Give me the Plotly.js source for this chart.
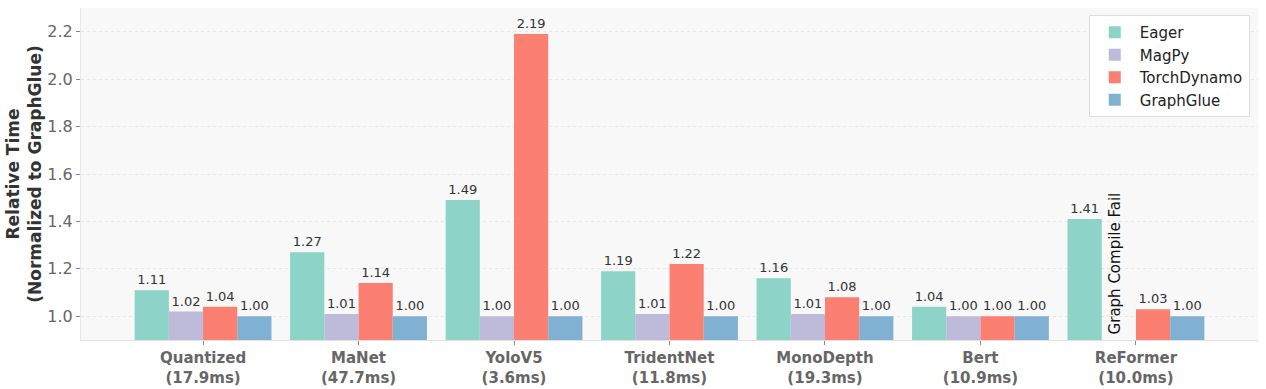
<!DOCTYPE html>
<html>
<head>
<meta charset="utf-8">
<script src="https://cdn.plot.ly/plotly-3.0.1.min.js"></script>
<style>html,body{margin:0;padding:0;background:#fff;}#chart{width:1266px;height:389px;}</style>
</head>
<body>
<div id="chart"></div>
<script>
const categories = ["Quantized<br>(17.9ms)", "MaNet<br>(47.7ms)", "YoloV5<br>(3.6ms)", "TridentNet<br>(11.8ms)", "MonoDepth<br>(19.3ms)", "Bert<br>(10.9ms)", "ReFormer<br>(10.0ms)"];
const eager = [1.11, 1.27, 1.49, 1.19, 1.16, 1.04, 1.41];
const magpy = [1.02, 1.01, 1.00, 1.01, 1.01, 1.00, null];
const torchDynamo = [1.04, 1.14, 2.19, 1.22, 1.08, 1.00, 1.03];
const graphGlue = [1.00, 1.00, 1.00, 1.00, 1.00, 1.00, 1.00];
const seriesNames = ["Eager", "MagPy", "TorchDynamo", "GraphGlue"];
const colors = ["#8dd3c7", "#bebada", "#fb8072", "#80b1d3"];
const failNote = "Graph Compile Fail";

const FONT = "DejaVu Sans, sans-serif";
const data = [eager, magpy, torchDynamo, graphGlue].map((vals, i) => ({
  type: "bar",
  name: seriesNames[i],
  x: categories,
  y: vals,
  marker: {color: colors[i], line: {width: 0}},
  texttemplate: "%{y:.2f}",
  textposition: "outside",
  cliponaxis: false,
  textfont: {family: FONT, size: 13, color: "#333"},
  hoverinfo: "x+y+name"
}));

const layout = {
  width: 1266, height: 389,
  margin: {l: 81, r: 8, t: 8, b: 49},
  paper_bgcolor: "#ffffff",
  plot_bgcolor: "#f8f8f8",
  font: {family: FONT, color: "#333"},
  barmode: "group",
  bargap: 0.12,
  bargroupgap: 0,
  showlegend: true,
  legend: {
    x: 0.993, y: 0.979, xanchor: "right", yanchor: "top",
    bgcolor: "#ffffff", bordercolor: "#dddddd", borderwidth: 1,
    font: {family: FONT, size: 15, color: "#222"},
    tracegroupgap: 0, itemwidth: 40
  },
  xaxis: {
    type: "category",
    range: [-0.785, 6.785],
    tickfont: {family: FONT, size: 15, color: "#666", weight: "bold"},
    ticks: "outside", ticklen: 4, tickcolor: "#888", tickwidth: 1,
    showline: true, linecolor: "#e0e0e0", linewidth: 1,
    showgrid: false, zeroline: false
  },
  yaxis: {
    range: [0.9, 2.3],
    tickvals: [1.0, 1.2, 1.4, 1.6, 1.8, 2.0, 2.2],
    ticktext: ["1.0", "1.2", "1.4", "1.6", "1.8", "2.0", "2.2"],
    tickfont: {family: FONT, size: 16, color: "#666"},
    ticks: "outside", ticklen: 4, tickcolor: "#888", tickwidth: 1,
    showline: true, linecolor: "#e8e8e8", linewidth: 1,
    showgrid: true, gridcolor: "#e6e6e6", griddash: "dot", gridwidth: 1,
    zeroline: false,
    title: {text: "Relative Time<br>(Normalized to GraphGlue)", font: {family: FONT, size: 17, color: "#333", weight: "bold"}, standoff: 1}
  },
  annotations: [{
    x: 5.865, y: 0.915, xref: "x", yref: "y",
    text: failNote, showarrow: false, textangle: -90,
    xanchor: "center", yanchor: "bottom",
    font: {family: FONT, size: 15, color: "#111"}
  }]
};

Plotly.newPlot("chart", data, layout, {displayModeBar: false, staticPlot: true});
</script>
</body>
</html>
